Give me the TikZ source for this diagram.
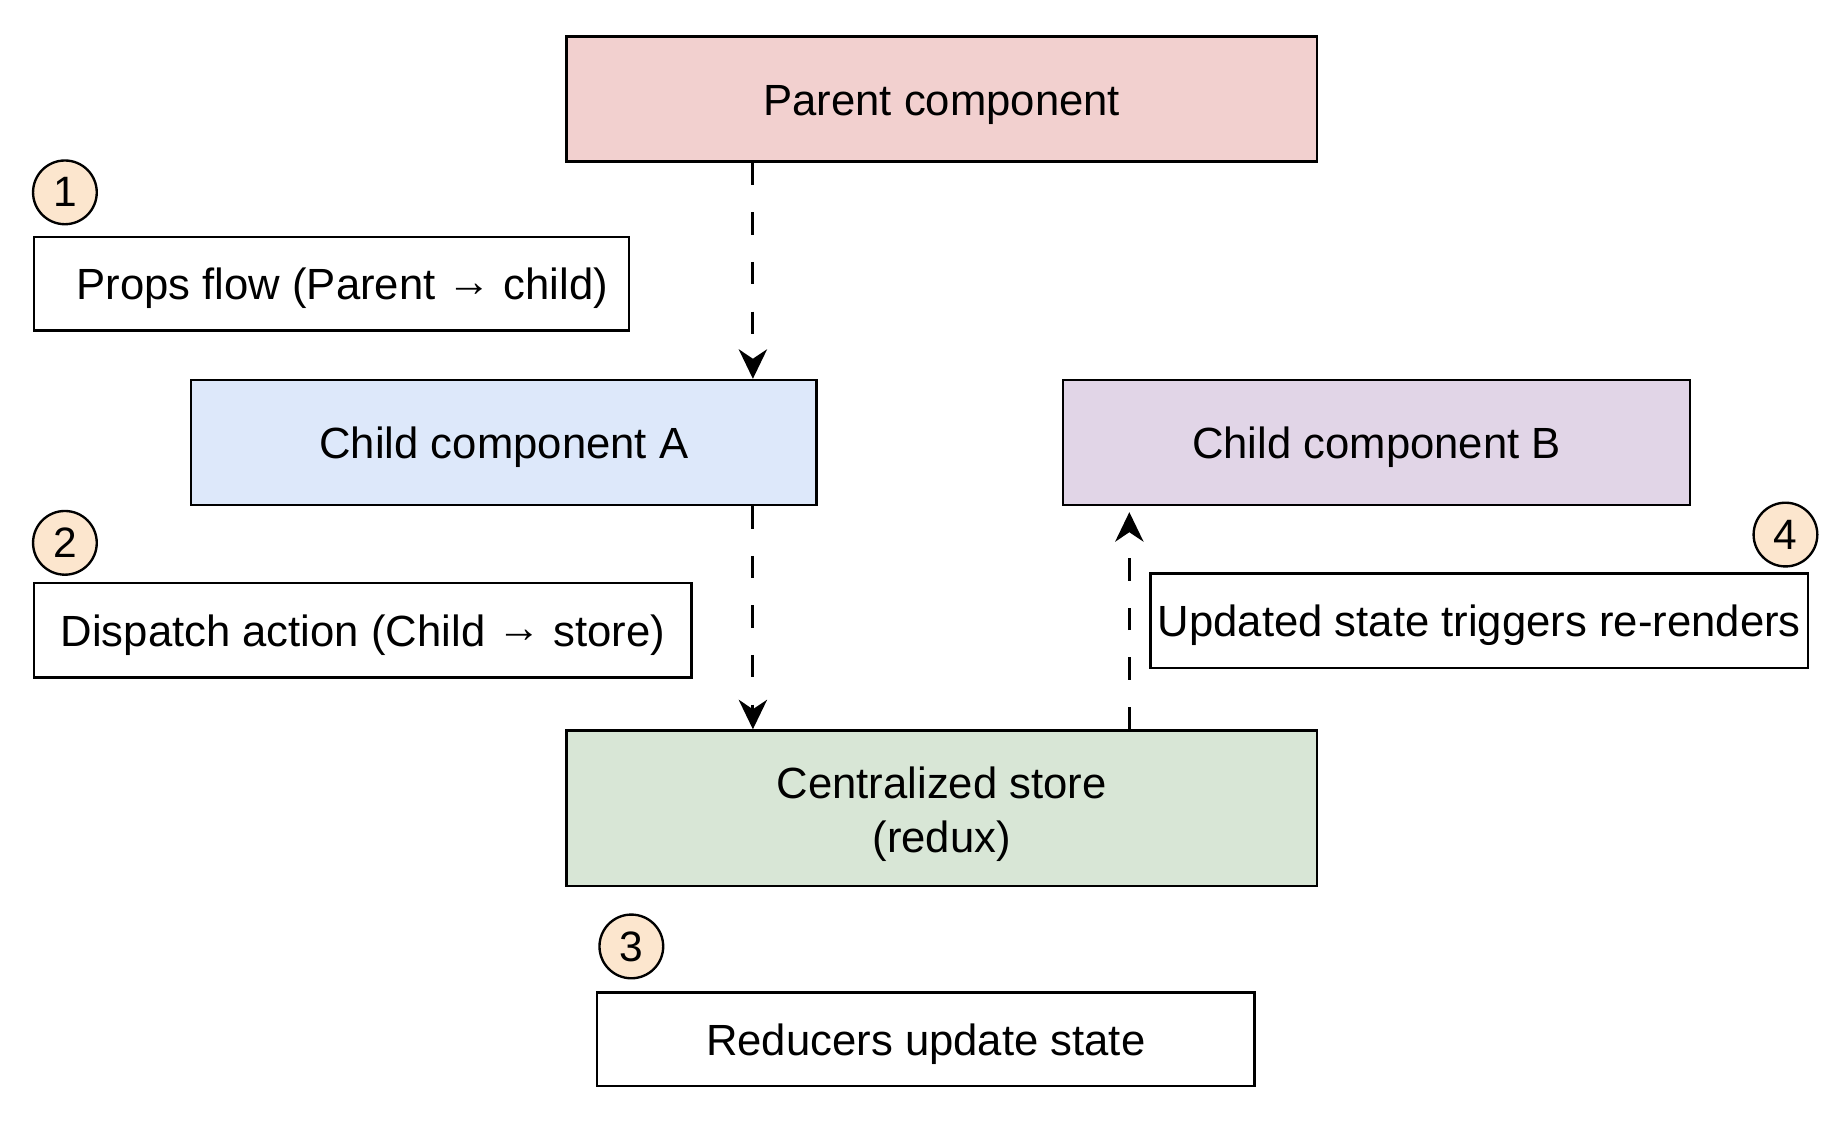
\documentclass[tikz,border=0pt]{standalone}
\usepackage{fontspec}
\setmainfont{Liberation Sans}
\usetikzlibrary{arrows.meta}
\newcommand{\rarr}{\raisebox{3pt}{\bfseries →}}
\definecolor{cparent}{RGB}{242,208,207}
\definecolor{cchilda}{RGB}{221,232,250}
\definecolor{cchildb}{RGB}{225,213,231}
\definecolor{cstore}{RGB}{216,230,214}
\definecolor{cstep}{RGB}{252,230,206}
\tikzset{
  boxfont/.style={font=\fontsize{37}{46}\selectfont, align=center, text=black},
  box/.style={draw=black, line width=2pt, rectangle, inner sep=2pt, boxfont,
    text height=27pt, text depth=0pt},
  stepnum/.style={draw=black, line width=2pt, circle, fill=cstep, minimum size=54pt,
    inner sep=0pt, font=\fontsize{36}{40}\selectfont},
  flow/.style={line width=2.5pt, dash pattern=on 19pt off 23pt,
    -{Stealth[length=25pt, width=24pt, inset=8pt]}}
}
\begin{document}
\begin{tikzpicture}[x=1pt, y=-1pt]
\useasboundingbox (0,0) rectangle (1566,966);
\node[box, fill=cparent, minimum width=636pt, minimum height=106pt] (parent) at (798,84) {Parent component};
\node[box, minimum width=504pt, minimum height=79pt] (props) at (281,240.5) {\hspace*{18pt}Props flow (Parent \rarr\ child)};
\node[box, fill=cchilda, minimum width=530pt, minimum height=106pt] (childa) at (427,375) {Child component A};
\node[box, fill=cchildb, minimum width=531pt, minimum height=106pt] (childb) at (1166.5,375) {Child component B};
\node[box, minimum width=557pt, minimum height=80pt] (dispatch) at (307.5,534) {Dispatch action (Child \rarr\ store)};
\node[box, minimum width=557pt, minimum height=80pt] (updated) at (1253.5,526) {Updated state triggers re-renders};
\node[box, fill=cstore, minimum width=636pt, minimum height=132pt,
  label={[boxfont, yshift=-5pt]center:Centralized store\\(redux)}] (store) at (798,685) {};
\node[box, minimum width=557pt, minimum height=79pt] (reducers) at (784.5,880.5) {Reducers update state};
\node[stepnum] (s1) at (55,163) {1};
\node[stepnum] (s2) at (55,460) {2};
\node[stepnum] (s3) at (535,802) {3};
\node[stepnum] (s4) at (1513,453) {4};
\coordinate (xa) at (638,0);
\coordinate (xb) at (957,0);
\draw[flow] (parent.south -| xa) -- (childa.north -| xa);
\draw[flow] (childa.south -| xa) -- (store.north -| xa);
\draw[flow, shorten >=5pt] (store.north -| xb) -- (childb.south -| xb);
\end{tikzpicture}
\end{document}
